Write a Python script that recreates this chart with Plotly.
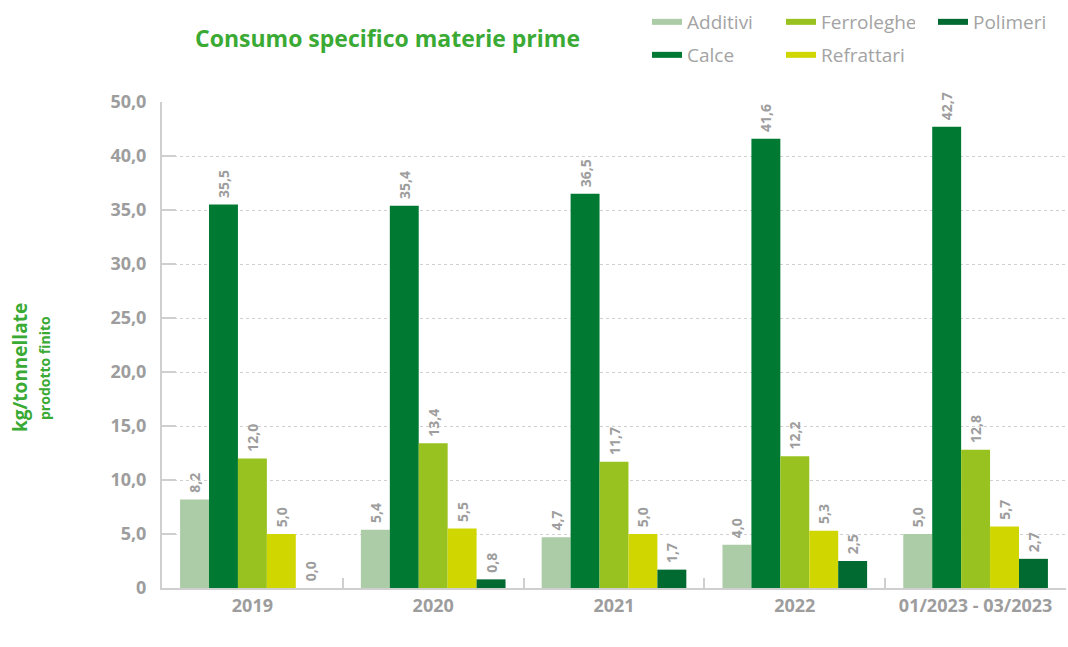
import plotly.graph_objects as go

# Categories and series values (kg per tonne of finished product)
categories = ["2019", "2020", "2021", "2022", "01/2023 - 03/2023"]
additivi = [8.2, 5.4, 4.7, 4.0, 5.0]
calce = [35.5, 35.4, 36.5, 41.6, 42.7]
ferroleghe = [12.0, 13.4, 11.7, 12.2, 12.8]
refrattari = [5.0, 5.5, 5.0, 5.3, 5.7]
polimeri = [0.0, 0.8, 1.7, 2.5, 2.7]

# Y axis ticks and their printed labels
y_tickvals = [0, 5, 10, 15, 20, 25, 30, 35, 40, 45]
y_ticktext = ["0", "5,0", "10,0", "15,0", "20,0", "25,0", "30,0", "35,0", "40,0", "50,0"]

# name, values, colour, legend group, rank
series = [
    ("Additivi", additivi, "#abcca6", "legend", 1),
    ("Calce", calce, "#007a33", "legend2", 1),
    ("Ferroleghe", ferroleghe, "#98c21f", "legend", 2),
    ("Refrattari", refrattari, "#d0d600", "legend2", 2),
    ("Polimeri", polimeri, "#006a30", "legend3", 1),
]

FONT = "Open Sans"
GREY = "#9d9d9d"
GREEN = "#3aaa35"

W, H = 1068, 647
L, R, T, B = 162, 2, 102, 59
PW, PH = W - L - R, H - T - B


def px_x(x):
    return (x - L) / PW


def px_y(y):
    return (H - B - y) / PH


fig = go.Figure()
for name, vals, color, leg, rank in series:
    fig.add_trace(go.Bar(
        x=categories, y=vals, name=name, marker=dict(color=color, line=dict(width=0)),
        texttemplate="\u00a0%{y:.1f}", textposition="outside", textangle=-90,
        textfont=dict(family=FONT, size=14, color=GREY, weight="bold"),
        constraintext="none", cliponaxis=False, showlegend=False,
        hovertemplate=name + ": %{y:.1f}<extra></extra>",
    ))
    # legend entry drawn as a short thick line
    fig.add_trace(go.Scatter(
        x=[None], y=[None], mode="lines", name=name,
        line=dict(color=color, width=6), legend=leg, legendrank=rank,
        showlegend=True, hoverinfo="skip",
    ))

legend_common = dict(
    orientation="h", xanchor="left", yanchor="middle", xref="paper", yref="container",
    font=dict(family=FONT, size=19, color="#a3a3a3"),
    itemwidth=30, bgcolor="rgba(0,0,0,0)", traceorder="normal",
)

fig.update_layout(
    width=W, height=H,
    margin=dict(l=L, r=R, t=T, b=B),
    plot_bgcolor="white", paper_bgcolor="white",
    barmode="group", bargap=0.2, bargroupgap=0,
    separators=",.",
    font=dict(family=FONT, color=GREY),
    legend=dict(x=px_x(647), y=1 - 22 / H, entrywidth=89, entrywidthmode="pixels",
                **legend_common),
    legend2=dict(x=px_x(647), y=1 - 55 / H, entrywidth=89, entrywidthmode="pixels",
                 **legend_common),
    legend3=dict(x=px_x(933), y=1 - 22 / H, **legend_common),
    xaxis=dict(
        type="category", range=[-0.5, 4.5],
        showline=True, linecolor="#cfcfcf", linewidth=2,
        ticks="inside", tickson="boundaries", ticklen=10, tickcolor="#cfcfcf", tickwidth=2,
        tickfont=dict(family=FONT, size=18, color=GREY, weight="bold"),
        showgrid=False,
    ),
    yaxis=dict(
        range=[0, 45], tickvals=y_tickvals, ticktext=y_ticktext,
        showline=True, linecolor="#cfcfcf", linewidth=2,
        ticks="inside", ticklen=14, tickcolor="#cfcfcf", tickwidth=2,
        ticklabelstandoff=10,
        tickfont=dict(family=FONT, size=18, color=GREY, weight="bold"),
        showgrid=True, gridcolor="#d0d0d0", griddash="dot", gridwidth=1,
        zeroline=False,
    ),
    annotations=[
        dict(text="<b>Consumo specifico materie prime</b>",
             xref="paper", yref="paper", x=px_x(387), y=px_y(38),
             xanchor="center", yanchor="middle", showarrow=False,
             font=dict(family=FONT, size=23, color=GREEN)),
        dict(text="<b>kg/tonnellate</b>", textangle=-90, xref="paper", yref="paper",
             x=px_x(20), y=px_y(368), xanchor="center", yanchor="middle", showarrow=False,
             font=dict(family=FONT, size=19, color=GREEN)),
        dict(text="<b>prodotto finito</b>", textangle=-90, xref="paper", yref="paper",
             x=px_x(44), y=px_y(368), xanchor="center", yanchor="middle", showarrow=False,
             font=dict(family=FONT, size=14, color=GREEN)),
    ],
)

fig.write_html("out.html")
